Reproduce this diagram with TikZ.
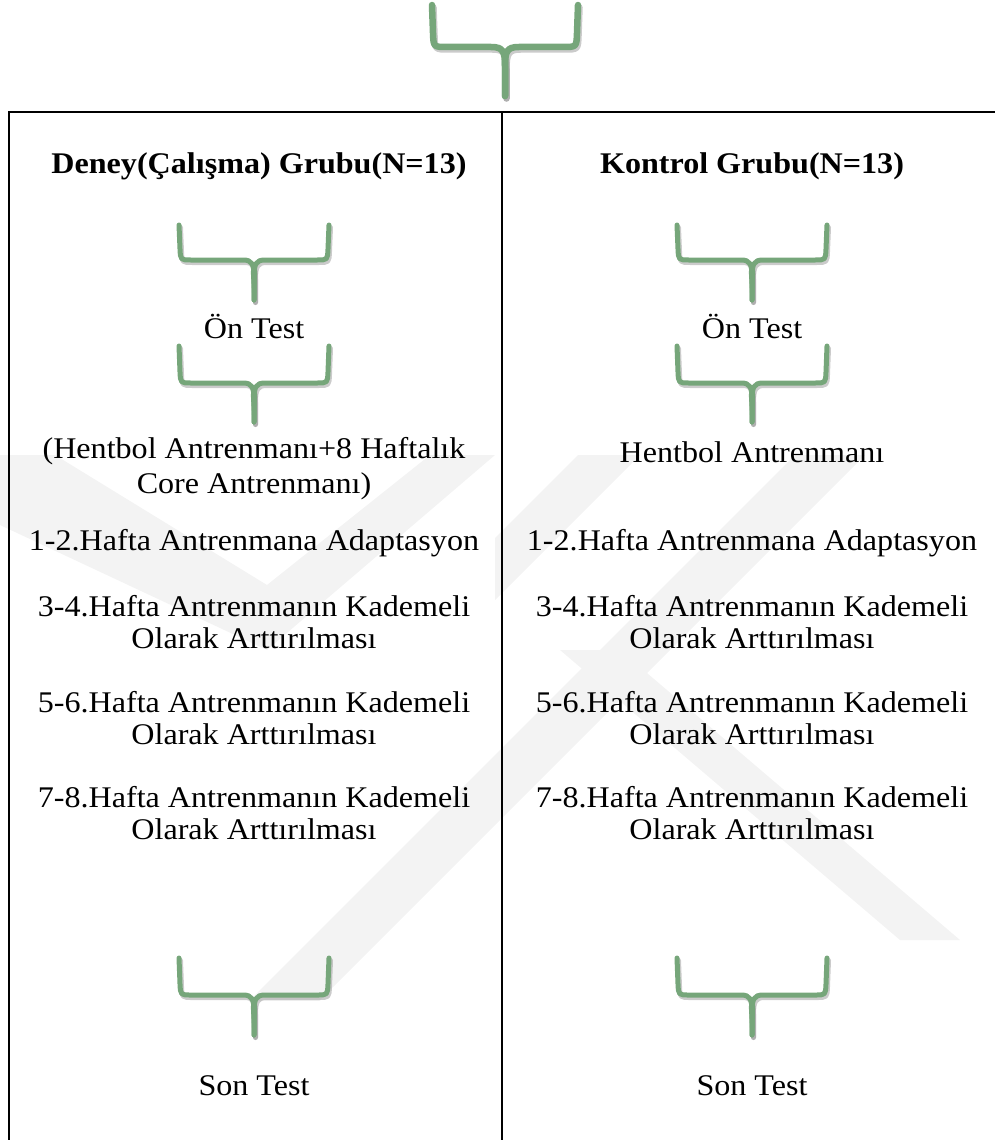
\documentclass[tikz,border=0pt]{standalone}
\usepackage{fontspec}
\setmainfont{Liberation Serif}
\usepackage{graphicx}
\definecolor{brgreen}{RGB}{118,166,122}
\definecolor{brshadow}{RGB}{140,140,140}
\definecolor{wmgray}{RGB}{243,243,243}
\newcommand\sx[1]{\scalebox{1.07}[1]{#1}}
\newcommand\twol[2]{\sx{\begin{tabular}{@{}c@{}}#1\\#2\end{tabular}}}
% cx, top, bar, tip, halfwidth, linewidth, corner radius
\newcommand\gbrace[7]{%
  \foreach \dx/\dy/\sty in {1.5/2.5/braceshadow, 0/0/brace}{%
    \draw[\sty, line width=#6, shift={(\dx,\dy)}]
      ({#1-#5},#2) -- ({#1-#5+1},{#3-#7})
      .. controls ({#1-#5+1.5},#3) .. ({#1-#5+#7+1},#3)
      -- ({#1-#7},#3) .. controls ({#1-2},#3) and (#1,{#3+4}) .. (#1,{#3+#7+6}) -- (#1,#4);
    \draw[\sty, line width=#6, shift={(\dx,\dy)}]
      ({#1+#5},#2) -- ({#1+#5-1},{#3-#7})
      .. controls ({#1+#5-1.5},#3) .. ({#1+#5-#7-1},#3)
      -- ({#1+#7},#3) .. controls ({#1+2},#3) and (#1,{#3+4}) .. (#1,{#3+#7+6}) -- (#1,#4);
  }
  \fill[brgreen] ({#1-3.2},{#3+#7}) -- ({#1+3.2},{#3+#7}) -- ({#1+1.6},#4) -- ({#1-1.6},#4) -- cycle;}
\begin{document}
\begin{tikzpicture}[x=1pt,y=-1pt,
  txt/.style={inner sep=0pt, font=\fontsize{30}{32}\selectfont},
  hdr/.style={inner sep=0pt, font=\fontsize{30}{32}\selectfont\bfseries},
  rule/.style={line width=2.4pt, black, line join=miter},
  brace/.style={draw=brgreen, line cap=round, line join=round},
  braceshadow/.style={draw=brshadow, opacity=0.45, line cap=round, line join=round},
  wm/.style={fill=wmgray}]

\useasboundingbox (0,0) rectangle (995,1140);

% faint watermark
\begin{scope}
  \clip (0,440) rectangle (995,1000);
  \fill[wm] (0,455) -- (55,455) -- (267,585) -- (430,455) -- (495,455) -- (267,650) -- (0,525) -- cycle;
  \fill[wm] (795,455) -- (865,455) -- (300,1020) -- (230,1020) -- cycle;
  \fill[wm] (578,455) -- (640,455) -- (495,600) -- (495,538) -- cycle;
  \fill[wm] (560,650) -- (620,650) -- (960,940) -- (900,940) -- cycle;
\end{scope}

% table rules
\draw[rule] (9,1141) -- (9,112) -- (996,112);
\draw[rule] (502,112) -- (502,1141);

% top brace
\gbrace{505}{5}{47}{96}{73}{6.5pt}{14}

% headers
\node[hdr] (hL) at (259,166) {\sx{Deney(Çalışma) Grubu(N=13)}};
\node[hdr] (hR) at (752,166) {\sx{Kontrol Grubu(N=13)}};

% left column
\gbrace{254}{225}{260}{300}{75}{5pt}{11}
\node[txt] (onL) at (254,326) {\sx{Ön Test}};
\gbrace{254}{346}{383}{422}{75}{5pt}{11}
\node[txt] (trL) at (254,469) {\sx{\def\arraystretch{1.08}\begin{tabular}{@{}c@{}}(Hentbol Antrenmanı+8 Haftalık\\Core Antrenmanı)\end{tabular}}};
\node[txt] (w1L) at (254,543) {\sx{1-2.Hafta Antrenmana Adaptasyon}};
\node[txt] (w3L) at (254,626) {\twol{3-4.Hafta Antrenmanın Kademeli}{Olarak Arttırılması}};
\node[txt] (w5L) at (254,722) {\twol{5-6.Hafta Antrenmanın Kademeli}{Olarak Arttırılması}};
\node[txt] (w7L) at (254,817) {\twol{7-8.Hafta Antrenmanın Kademeli}{Olarak Arttırılması}};
\gbrace{254}{958}{995}{1035}{75}{5pt}{11}
\node[txt] (soL) at (254,1086) {\sx{Son Test}};

% right column
\gbrace{752}{225}{260}{300}{75}{5pt}{11}
\node[txt] (onR) at (752,326) {\sx{Ön Test}};
\gbrace{752}{346}{383}{422}{75}{5pt}{11}
\node[txt] (trR) at (752,452) {\sx{Hentbol Antrenmanı}};
\node[txt] (w1R) at (752,543) {\sx{1-2.Hafta Antrenmana Adaptasyon}};
\node[txt] (w3R) at (752,626) {\twol{3-4.Hafta Antrenmanın Kademeli}{Olarak Arttırılması}};
\node[txt] (w5R) at (752,722) {\twol{5-6.Hafta Antrenmanın Kademeli}{Olarak Arttırılması}};
\node[txt] (w7R) at (752,817) {\twol{7-8.Hafta Antrenmanın Kademeli}{Olarak Arttırılması}};
\gbrace{752}{958}{995}{1035}{75}{5pt}{11}
\node[txt] (soR) at (752,1086) {\sx{Son Test}};
\end{tikzpicture}
\end{document}
